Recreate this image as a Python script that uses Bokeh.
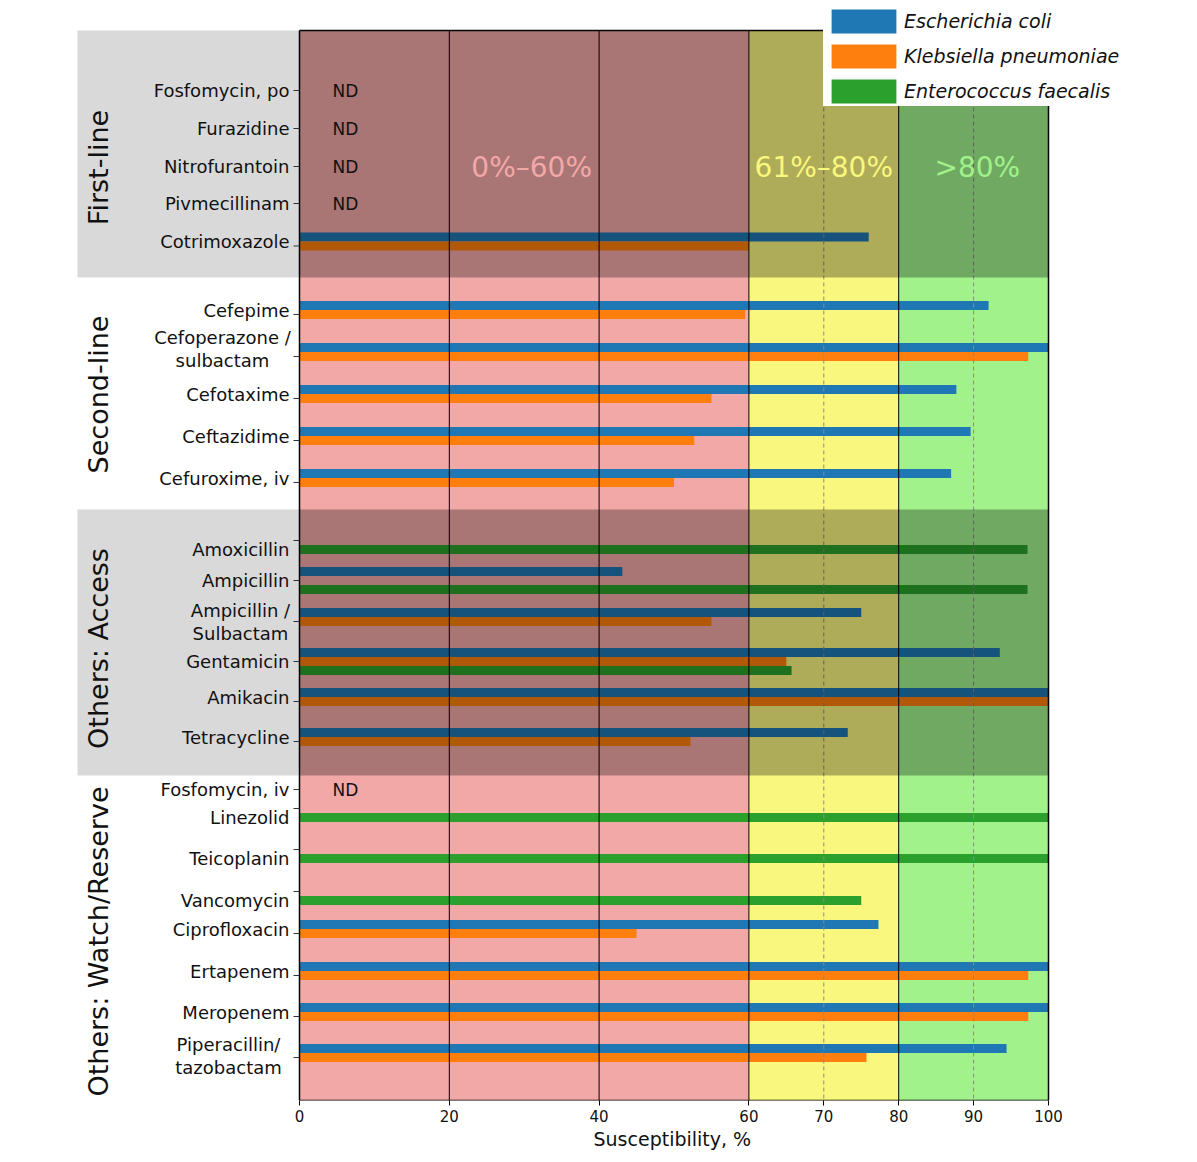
import math
from bokeh.plotting import figure
from bokeh.models import Range1d, FixedTicker, Legend, LegendItem, ColumnDataSource, Title
from bokeh.core.properties import value
from bokeh.embed import file_html
from bokeh.resources import INLINE

nan = float("nan")

# ---------------- data ----------------
groups = ["First-line", "Second-line", "Others: Access", "Others: Watch/Reserve"]
group_shaded = [True, False, True, False]

drugs = ["Fosfomycin, po", "Furazidine", "Nitrofurantoin", "Pivmecillinam", "Cotrimoxazole",
         "Cefepime", "Cefoperazone /\nsulbactam", "Cefotaxime", "Ceftazidime", "Cefuroxime, iv",
         "Amoxicillin", "Ampicillin", "Ampicillin /\nSulbactam", "Gentamicin", "Amikacin", "Tetracycline",
         "Fosfomycin, iv", "Linezolid", "Teicoplanin", "Vancomycin", "Ciprofloxacin", "Ertapenem",
         "Meropenem", "Piperacillin/\ntazobactam"]
drug_group = [0] * 5 + [1] * 5 + [2] * 6 + [3] * 8
not_determined = ["Fosfomycin, po", "Furazidine", "Nitrofurantoin", "Pivmecillinam", "Fosfomycin, iv"]

series_names = ["Escherichia coli", "Klebsiella pneumoniae", "Enterococcus faecalis"]
e_coli = [nan, nan, nan, nan, 76.0,
          92.0, 100.0, 87.7, 89.6, 87.0,
          nan, 43.1, 75.0, 93.5, 100.0, 73.2,
          nan, nan, nan, nan, 77.3, 100.0, 100.0, 94.4]
k_pneumoniae = [nan, nan, nan, nan, 60.0,
                59.5, 97.3, 55.0, 52.7, 50.0,
                nan, nan, 55.0, 65.0, 100.0, 52.2,
                nan, nan, nan, nan, 45.0, 97.3, 97.3, 75.7]
e_faecalis = [nan, nan, nan, nan, nan,
              nan, nan, nan, nan, nan,
              97.2, 97.2, nan, 65.7, nan, nan,
              nan, 100.0, 100.0, 75.0, nan, nan, nan, nan]

band_edges = [0, 60, 80, 100]
band_labels = ["0%\u201360%", "61%\u201380%", ">80%"]
x_ticks = [0, 20, 40, 60, 70, 80, 90, 100]

# ---------------- layout (screen-like units) ----------------
W, H = 1197, 1162
X0_PX, X100_PX = 299, 1048
SCALE = (X100_PX - X0_PX) / 100.0


def px(xp):
    return (xp - X0_PX) / SCALE


row_y = [90, 128, 166, 203, 245.5,
         314, 356, 398, 440, 482,
         540, 580, 621, 661, 701, 741,
         789, 808, 849, 891, 933, 975, 1016, 1057]
group_top = [30, 277, 509, 775]
group_bottom = [277, 509, 775, 1100]
group_label_y = [167, 394, 648, 941]
multiline_center_px = {"Cefoperazone /\nsulbactam": 222, "Ampicillin /\nSulbactam": 240,
                       "Piperacillin/\ntazobactam": 228}
multiline_shift = {"Cefoperazone /\nsulbactam": -3, "Ampicillin /\nSulbactam": 5,
                   "Piperacillin/\ntazobactam": 3}
bar_h = 9
offsets = [-9, 0, 9]
colors = ["#1f77b4", "#ff7f0e", "#2ca02c"]
band_colors = ["#f3a8a8", "#f9f77e", "#a1f28b"]
TXT = "#111111"
FONT = value("DejaVu Sans")

p = figure(width=W, height=H, x_range=Range1d(px(0), px(W)), y_range=Range1d(1100, 0),
           output_backend="svg", toolbar_location=None, y_axis_location=None,
           min_border_left=0, min_border_right=0, min_border_top=0, min_border_bottom=62)
p.outline_line_color = None
p.grid.visible = False
p.background_fill_color = "white"

# background bands
p.quad(left=band_edges[:-1], right=band_edges[1:], top=30, bottom=1100,
       fill_color=band_colors, line_color=None)

# left grey panels for shaded groups
sh_top = [t for t, s in zip(group_top, group_shaded) if s]
sh_bot = [b for b, s in zip(group_bottom, group_shaded) if s]
p.quad(left=px(77), right=0, top=sh_top, bottom=sh_bot, fill_color="#d9d9d9", line_color=None)

# bars
all_series = [e_coli, k_pneumoniae, e_faecalis]
renderers = []
for vals, off, col in zip(all_series, offsets, colors):
    ys = [y + off for y, v in zip(row_y, vals) if not math.isnan(v)]
    rs = [v for v in vals if not math.isnan(v)]
    src = ColumnDataSource(dict(y=ys, right=rs))
    r = p.hbar(y="y", left=0, right="right", height=bar_h, source=src,
               fill_color=col, line_color=None)
    renderers.append(r)

# reference lines
p.segment(x0=[20, 40, 60, 80], x1=[20, 40, 60, 80], y0=30, y1=1100, line_color="black", line_width=1)
p.segment(x0=[70, 90], x1=[70, 90], y0=30, y1=1100, line_color="#8a8a8a", line_width=1, line_dash="4 3")

# dark overlay on shaded groups
p.quad(left=0, right=100, top=sh_top, bottom=sh_bot, fill_color="black", fill_alpha=0.3, line_color=None)

# frame
p.segment(x0=[0, 100, 0, 0], x1=[0, 100, 100, 100], y0=[30, 30, 30, 1100], y1=[1100, 1100, 30, 1100],
          line_color="black", line_width=1.5)

# y ticks
p.segment(x0=px(293), x1=0, y0=row_y, y1=row_y, line_color="#333333", line_width=1)

# band labels
p.text(x=[31, 70, 90.5], y=[167] * 3, text=band_labels, text_color=band_colors,
       text_align="center", text_baseline="middle", text_font_size="28px", text_font=FONT)

# ND labels
nd_y = [y for d, y in zip(drugs, row_y) if d in not_determined]
p.text(x=px(332), y=nd_y, text=["ND"] * len(nd_y), text_align="left", text_baseline="middle",
       text_font_size="17px", text_font=FONT, text_color=TXT)

# drug labels
single_x, single_y, single_t = [], [], []
multi_x, multi_y, multi_t = [], [], []
for i, d in enumerate(drugs):
    present = [row_y[i] + off for vals, off in zip(all_series, offsets) if not math.isnan(vals[i])]
    ly = sum(present) / len(present) if present else row_y[i]
    if d in multiline_center_px:
        multi_x.append(px(multiline_center_px[d]))
        multi_y.append(ly + multiline_shift[d])
        multi_t.append(d)
    else:
        single_x.append(px(289))
        single_y.append(ly)
        single_t.append(d)
p.text(x=single_x, y=single_y, text=single_t, text_align="right", text_baseline="middle",
       text_font_size="18px", text_font=FONT, text_color=TXT)
p.text(x=multi_x, y=multi_y, text=multi_t, text_align="center", text_baseline="middle",
       text_font_size="18px", text_font=FONT, text_color=TXT, text_line_height=1.08)

# group labels
p.text(x=[px(98)] * 4, y=group_label_y, text=groups, angle=math.pi / 2, text_align="center",
       text_baseline="middle", text_font_size="27px", text_font=FONT, text_color=TXT)

# x axis
ax = p.xaxis[0]
ax.ticker = FixedTicker(ticks=x_ticks)
ax.axis_line_color = None
ax.major_tick_line_color = "black"
ax.major_tick_out = 5
ax.major_tick_in = 0
ax.minor_tick_line_color = None
ax.major_label_text_font_size = "15px"
ax.major_label_text_font = "DejaVu Sans"
ax.major_label_text_color = TXT
ax.major_label_standoff = 4

xtitle = Title(text="Susceptibility, %", align="left", offset=593, standoff=2,
               text_font_size="19px", text_font_style="normal", text_font="DejaVu Sans",
               text_color=TXT)
p.add_layout(xtitle, "below")

legend = Legend(items=[LegendItem(label=n, renderers=[r]) for n, r in zip(series_names, renderers)],
                location=(823, 994))
legend.background_fill_color = "white"
legend.background_fill_alpha = 1.0
legend.border_line_color = None
legend.glyph_width = 81
legend.glyph_height = 30
legend.label_text_font_size = "19px"
legend.label_text_font_style = "italic"
legend.label_text_font = "DejaVu Sans"
legend.label_text_color = TXT
legend.label_standoff = 0
legend.spacing = 5
legend.padding = 4
legend.margin = 0
p.add_layout(legend)

open("out.html", "w").write(file_html(p, INLINE))
